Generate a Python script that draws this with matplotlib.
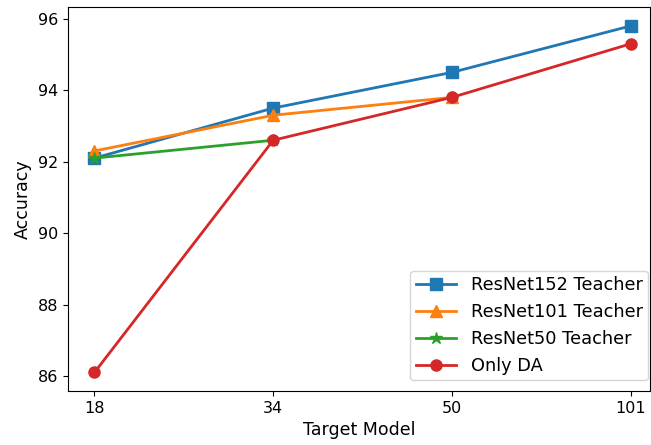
import matplotlib
matplotlib.use('Agg')
import matplotlib.pyplot as plt

# target models on the x axis
models = ['18', '34', '50', '101']

# accuracy per teacher
resnet152 = [92.1, 93.5, 94.5, 95.8]
resnet101 = [92.3, 93.3, 93.8]
resnet50 = [92.1, 92.6]
only_da = [86.1, 92.6, 93.8, 95.3]

fig = plt.figure(figsize=(6.51, 4.45), dpi=100)
ax = fig.add_axes([0.1045, 0.1213, 0.894, 0.863])

ax.plot(range(len(resnet152)), resnet152, marker='s', color='tab:blue',
        lw=2, ms=8, label='ResNet152 Teacher')
ax.plot(range(len(resnet101)), resnet101, marker='^', color='tab:orange',
        lw=2, ms=9, label='ResNet101 Teacher')
ax.plot(range(len(resnet50)), resnet50, marker='*', color='tab:green',
        lw=2, ms=9, label='ResNet50 Teacher')
ax.plot(range(len(only_da)), only_da, marker='o', color='tab:red',
        lw=2, ms=8, label='Only DA')

ax.set_xticks(range(len(models)))
ax.set_xticklabels(models)
ax.set_xlim(-0.148, 3.108)
ax.set_ylim(85.58, 96.33)
ax.tick_params(labelsize=11.5)
ax.set_xlabel('Target Model', fontsize=12.5)
ax.set_ylabel('Accuracy', fontsize=12.5)
ax.legend(loc='lower right', fontsize=12.8, borderpad=0.3, handlelength=2.3,
          bbox_to_anchor=(0.9966, 0.028), borderaxespad=0)

fig.savefig('out.png', dpi=100)
